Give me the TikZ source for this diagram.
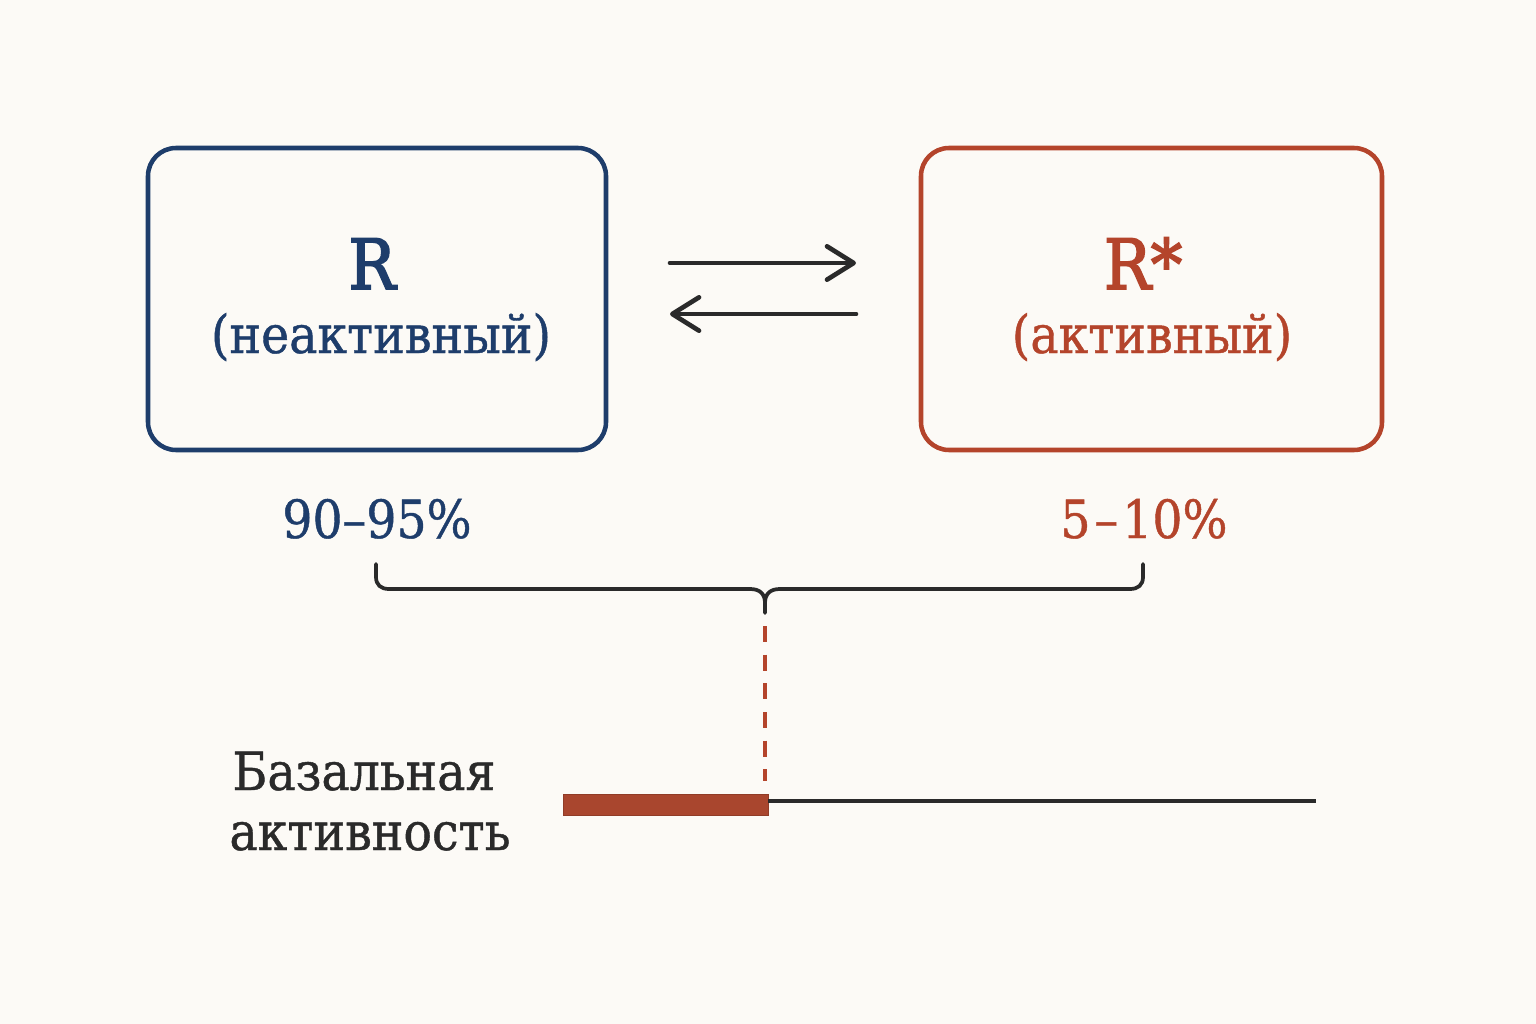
\documentclass[tikz,border=0pt]{standalone}
\usepackage{fontspec}
\setmainfont{DejaVu Serif}[FakeStretch=0.9, FakeBold=0.8]
\newfontfamily\rfont{DejaVu Serif}[FakeStretch=0.9, FakeBold=2.5]
\usetikzlibrary{arrows.meta}
\definecolor{bg}{HTML}{FCFAF6}
\definecolor{nblue}{HTML}{1E3D6B}
\definecolor{nred}{HTML}{B4442B}
\definecolor{nbar}{HTML}{A9462E}
\definecolor{ndark}{HTML}{2A2A2A}
\begin{document}
\begin{tikzpicture}[x=0.75pt,y=-0.75pt,
  box/.style={draw, line width=3.4pt, rounded corners=21pt, inner sep=0pt},
  bigtxt/.style={anchor=base, inner sep=0pt, font=\rfont\fontsize{52}{60}\selectfont},
  subtxt/.style={anchor=base, inner sep=0pt, font=\fontsize{39.5}{48}\selectfont},
  pcttxt/.style={anchor=base, inner sep=0pt, font=\fontsize{39.5}{48}\selectfont},
  lbltxt/.style={anchor=base, inner sep=0pt, align=center, text=ndark, font=\fontsize{39.5}{45}\selectfont},
  eqarrow/.style={draw=ndark, line width=3.5pt, line cap=round, -{Straight Barb[length=20pt,width=25pt,round]}},
  bracepath/.style={draw=ndark, line width=2.8pt, line cap=round, line join=round},
  dashline/.style={draw=nred, line width=3pt, dash pattern=on 12pt off 9.5pt}
]
\fill[bg] (0,0) rectangle (1536,1024);
\useasboundingbox (0,0) rectangle (1536,1024);

% boxes
\node[box, draw=nblue, minimum width=343.5pt, minimum height=226.5pt] (boxL) at (377,299) {};
\node[box, draw=nred, minimum width=345.75pt, minimum height=226.5pt] (boxR) at (1151.5,299) {};

% texts in boxes
\node[bigtxt, text=nblue] (rL) at (372,289) {R};
\node[subtxt, text=nblue] (sL) at (381,353) {(неактивный)};
\node[bigtxt, text=nred] (rR) at (1143,289) {R*};
\node[subtxt, text=nred] (sR) at (1152,353) {(активный)};

% equilibrium arrows
\coordinate (a1) at (670,263);
\coordinate (a2) at (856,263);
\coordinate (b1) at (856,314);
\coordinate (b2) at (670,314);
\draw[eqarrow] (a1) -- (a2);
\draw[eqarrow] (b1) -- (b2);

% percentages
\node[pcttxt, text=nblue] (pL) at (377,538) {90–95\%};
\node[pcttxt, text=nred] (pR) at (1144,538) {5\kern3pt–\kern3pt10\%};

% brace
\coordinate (brL) at (376,564);
\coordinate (brR) at (1143,564);
\coordinate (brM) at (765,613);
\draw[bracepath] (brL) -- (376,577) .. controls (376,585) and (381,589) .. (389,589)
  -- (750,589) .. controls (760,589) and (765,594) .. (765,603) -- (brM);
\draw[bracepath] (brR) -- (1143,577) .. controls (1143,585) and (1138,589) .. (1130,589)
  -- (780,589) .. controls (770,589) and (765,594) .. (765,603);

% dashed link
\coordinate (d1) at (765,626);
\coordinate (d2) at (765,781);
\draw[dashline] (d1) -- (d2);

% activity bar
\node[fill=nbar, draw=nbar!85!black, line width=0.6pt, inner sep=0pt, minimum width=153.75pt, minimum height=15.75pt] (bar) at (665.5,804.5) {};
\coordinate (lineEnd) at (1316,801);
\draw[draw=ndark, line width=3pt] (768,801) -- (lineEnd);

% label
\node[lbltxt] (lbl1) at (364,790) {Базальная};
\node[lbltxt] (lbl2) at (370,850) {активность};
\end{tikzpicture}
\end{document}
